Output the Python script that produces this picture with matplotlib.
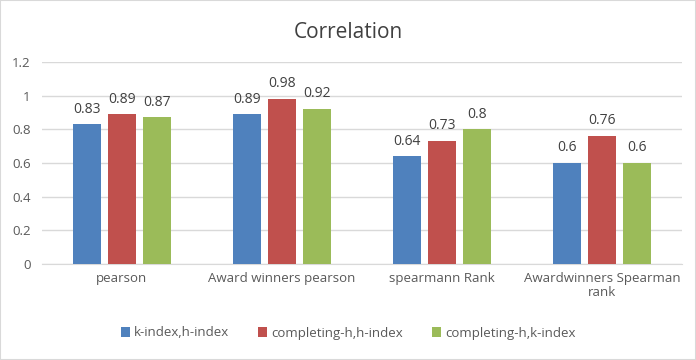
import numpy as np
import matplotlib
matplotlib.use("Agg")
import matplotlib.pyplot as plt

# === DATOS ===
categories = ["pearson", "Award winners pearson", "spearmann Rank", "Awardwinners Spearman\nrank"]
series_names = ["k-index,h-index", "completing-h,h-index", "completing-h,k-index"]
kh = [0.83, 0.89, 0.64, 0.6]
ch_h = [0.89, 0.98, 0.73, 0.76]
ch_k = [0.87, 0.92, 0.8, 0.6]
colors = ["#4F81BD", "#C0504D", "#9BBB59"]

plt.rcParams["font.family"] = ["Open Sans", "DejaVu Sans"]

fig = plt.figure(figsize=(6.96, 3.6), dpi=100)
ax = fig.add_axes([0.060, 0.267, 0.920, 0.561])

x = np.arange(len(categories))
width = 0.175
step = 0.22
for i, (vals, name, col) in enumerate(zip([kh, ch_h, ch_k], series_names, colors)):
    pos = x + (i - 1) * step
    bars = ax.bar(pos, vals, width, color=col, label=name, zorder=3)
    for b, v in zip(bars, vals):
        ax.text(b.get_x() + b.get_width() / 2, v + 0.045, f"{v:g}",
                ha="center", va="bottom", fontsize=10, color="#404040")

ax.set_xlim(-0.5, len(categories) - 0.5)
ax.set_ylim(0, 1.2)
ax.set_yticks(np.arange(0, 1.21, 0.2))
ax.set_yticklabels(["0", "0.2", "0.4", "0.6", "0.8", "1", "1.2"])
ax.set_xticks(x)
ax.set_xticklabels(categories, linespacing=1.1)
ax.tick_params(axis="both", length=0, labelsize=9.5, colors="#595959")
ax.tick_params(axis="x", pad=6)
ax.tick_params(axis="y", pad=8)
ax.grid(axis="y", color="#D9D9D9", linewidth=1, zorder=0)
for s in ["top", "right", "left"]:
    ax.spines[s].set_visible(False)
ax.spines["bottom"].set_color("#D9D9D9")

fig.suptitle("Correlation", y=0.94, fontsize=15, color="#404040")
fig.legend(loc="center", bbox_to_anchor=(0.5, 0.075), ncol=3, frameon=False,
           fontsize=9.5, handlelength=0.7, handleheight=0.7, handletextpad=0.3,
           columnspacing=2.2, labelcolor="#595959")

fig.patches.append(plt.Rectangle((0, 0), 1, 1, transform=fig.transFigure,
                                 fill=False, edgecolor="#D9D9D9", linewidth=1.5))

fig.savefig("out.png", dpi=100)
